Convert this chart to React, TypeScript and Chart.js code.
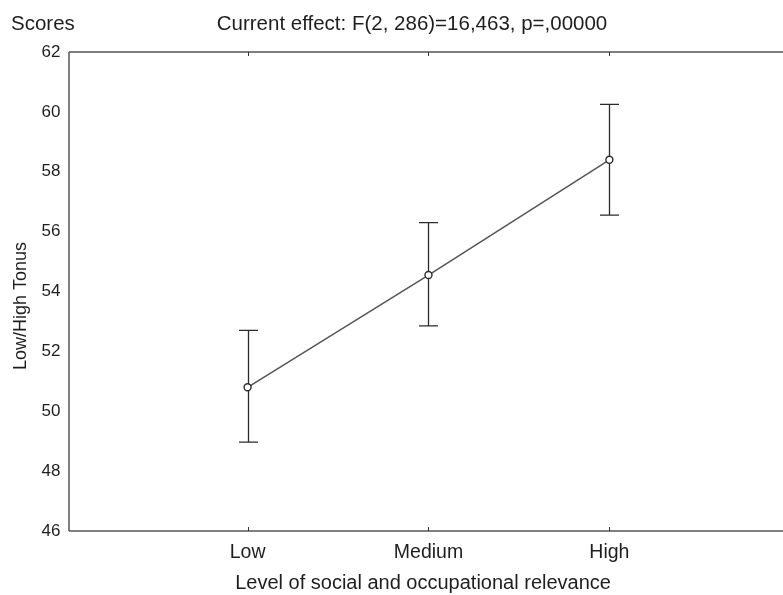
import React, { useEffect, useRef } from "react";
import { Chart, registerables } from "chart.js";

Chart.register(...registerables);

const categories = ["Low", "Medium", "High"];
const means = [50.8, 54.55, 58.4];
const lowerCI = [48.97, 52.85, 56.55];
const upperCI = [52.7, 56.3, 60.25];
const yTickValues = [46, 48, 50, 52, 54, 56, 58, 60, 62];

const cornerLabel = "Scores";
const effectTitle = "Current effect: F(2, 286)=16,463, p=,00000";
const yTitle = "Low/High Tonus";
const xTitle = "Level of social and occupational relevance";

const FONT = "'Liberation Sans', Arial, sans-serif";
const TEXT = "#1e1e1e";
const AXIS = "#555555";

const overlay = {
  id: "overlay",
  beforeDatasetsDraw(chart: any) {
    const { ctx, scales } = chart;
    const x = scales.x;
    const y = scales.y;
    ctx.save();
    ctx.strokeStyle = "#2b2b2b";
    ctx.lineWidth = 1.3;
    for (let i = 0; i < means.length; i++) {
      const px = Math.round(x.getPixelForValue(i)) + 0.5;
      const top = y.getPixelForValue(upperCI[i]);
      const bot = y.getPixelForValue(lowerCI[i]);
      ctx.beginPath();
      ctx.moveTo(px, top);
      ctx.lineTo(px, bot);
      ctx.moveTo(px - 9.5, top);
      ctx.lineTo(px + 9.5, top);
      ctx.moveTo(px - 9.5, bot);
      ctx.lineTo(px + 9.5, bot);
      ctx.stroke();
    }
    ctx.restore();
  },
  afterDraw(chart: any) {
    const { ctx, chartArea, scales } = chart;
    const x = scales.x;
    ctx.save();
    ctx.strokeStyle = AXIS;
    ctx.lineWidth = 1.5;
    const top = Math.round(chartArea.top);
    const bottom = Math.round(chartArea.bottom);
    const left = Math.round(chartArea.left);
    ctx.beginPath();
    ctx.moveTo(left, top);
    ctx.lineTo(chart.width, top);
    ctx.moveTo(left, bottom);
    ctx.lineTo(chart.width, bottom);
    ctx.moveTo(left, top);
    ctx.lineTo(left, bottom);
    ctx.stroke();
    ctx.lineWidth = 1;
    ctx.strokeStyle = "#333";
    for (let i = 0; i < categories.length; i++) {
      const px = Math.round(x.getPixelForValue(i)) + 0.5;
      ctx.beginPath();
      ctx.moveTo(px, top);
      ctx.lineTo(px, top + 4);
      ctx.moveTo(px, bottom);
      ctx.lineTo(px, bottom - 4);
      ctx.stroke();
    }
    ctx.fillStyle = TEXT;
    ctx.font = `20.5px ${FONT}`;
    ctx.textBaseline = "alphabetic";
    ctx.textAlign = "left";
    ctx.fillText(cornerLabel, 11, 30);
    ctx.textAlign = "center";
    ctx.fillText(effectTitle, 412, 30);
    ctx.translate(26, 306);
    ctx.rotate(-Math.PI / 2);
    ctx.font = `18px ${FONT}`;
    ctx.fillText(yTitle, 0, 0);
    ctx.restore();
  },
};

export default function App() {
  const ref = useRef<HTMLCanvasElement | null>(null);
  useEffect(() => {
    if (!ref.current) return;
    const chart = new Chart(ref.current, {
      type: "line",
      data: {
        datasets: [
          {
            data: means.map((m, i) => ({ x: i, y: m })),
            borderColor: "#555555",
            borderWidth: 1.5,
            pointRadius: 3.5,
            pointBorderWidth: 1.4,
            pointBorderColor: "#2b2b2b",
            pointBackgroundColor: "#ffffff",
            tension: 0,
          },
        ],
      },
      options: {
        responsive: false,
        animation: false,
        devicePixelRatio: 1,
        layout: { padding: { top: 52, right: 0, left: 0, bottom: 0 } },
        plugins: { legend: { display: false }, tooltip: { enabled: false }, title: { display: false } },
        scales: {
          x: {
            type: "linear",
            min: -0.99,
            max: 2.93,
            grid: { display: false, tickLength: 0 },
            border: { display: false },
            afterBuildTicks: (s: any) => {
              s.ticks = [0, 1, 2].map((v) => ({ value: v }));
            },
            ticks: {
              autoSkip: false,
              maxRotation: 0,
              padding: 10,
              color: TEXT,
              font: { family: FONT, size: 19.5 },
              callback: (v: any) => categories[v as number] ?? "",
            },
            title: {
              display: true,
              text: xTitle,
              color: TEXT,
              font: { family: FONT, size: 20 },
              padding: { top: 3, bottom: 0 },
            },
            afterFit: (s: any) => {
              s.height = 64;
            },
          },
          y: {
            type: "linear",
            min: 46,
            max: 62,
            grid: { display: false, tickLength: 0 },
            border: { display: false },
            afterBuildTicks: (s: any) => {
              s.ticks = yTickValues.map((v) => ({ value: v }));
            },
            ticks: {
              padding: 8,
              color: TEXT,
              font: { family: FONT, size: 17 },
            },
            afterFit: (s: any) => {
              s.width = 68.5;
            },
          },
        },
      },
      plugins: [overlay],
    });
    return () => chart.destroy();
  }, []);
  return (
    <div style={{ position: "absolute", left: 0, top: 0, width: 783, height: 595, background: "#fff" }}>
      <canvas ref={ref} width={783} height={595} style={{ width: 783, height: 595, display: "block" }} />
    </div>
  );
}
